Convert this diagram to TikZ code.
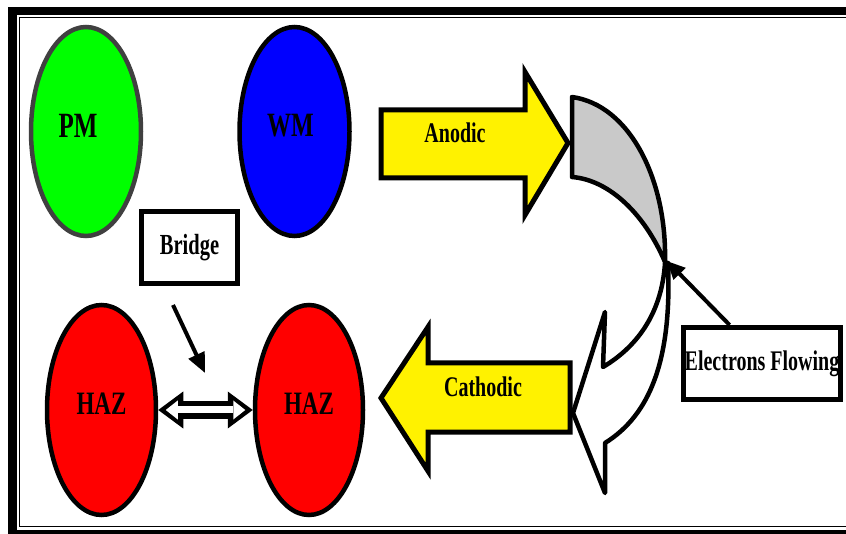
\documentclass[tikz,border=0pt]{standalone}
\usepackage{fontspec}
\setmainfont{Liberation Serif}
\usepackage{graphicx}
\usetikzlibrary{shapes.geometric,arrows.meta,calc}
\newcommand\tallbf[2]{\scalebox{1}[1.42]{\fontsize{#1}{#1}\selectfont\bfseries #2}}
\tikzset{
  blob/.style={ellipse, line width=4.5pt, draw=black, inner sep=0pt,
    minimum width=110pt, minimum height=209pt},
  inlbl/.style={inner sep=0pt, yshift=6pt},
  labelbox/.style={draw=black, line width=5pt, inner sep=0pt, fill=white},
  blockarrow/.style={fill=yellow, draw=black, line width=5pt, line join=miter},
  curvepart/.style={draw=black, line width=4.5pt, line join=round},
  ptr/.style={line width=4pt, -{Triangle[length=20pt,width=17pt]}},
  plain/.style={inner sep=0pt}
}
\begin{document}
\begin{tikzpicture}[x=1pt,y=-1pt]
\useasboundingbox (0,0) rectangle (846,534);
\clip (0,0) rectangle (846,534);
% frame
\fill[white] (0,0) rectangle (846,534);
\fill[black] (8,7) rectangle (870,560);
\fill[white] (17,15) rectangle (860,529.5);
\draw[line width=1.5pt] (19.5,17.5) rectangle (865,526.5);

% ellipses
\node[blob, fill=green, draw=black!75,
  label={[inlbl, xshift=-8pt]center:\tallbf{25}{PM}}] (pm) at (86,131.5) {};
\node[blob, fill=blue,
  label={[inlbl, xshift=-4pt]center:\tallbf{24}{WM}}] (wm) at (294.5,131.5) {};
\node[blob, fill=red, minimum width=109pt, minimum height=210pt,
  label={[inlbl]center:\tallbf{23}{HAZ}}] (hazl) at (101.5,410) {};
\node[blob, fill=red, minimum width=108pt, minimum height=210pt,
  label={[inlbl]center:\tallbf{23}{HAZ}}] (hazr) at (309,410) {};

% bridge
\node[labelbox, minimum width=96pt, minimum height=72pt] (bridge) at (189.5,247.5) {\tallbf{20.5}{Bridge}};
\coordinate (bstart) at (173,305);
\coordinate (bend) at (205,373);
\draw[ptr] (bstart) -- (bend);

% double arrow between HAZ
\draw[line width=17pt,
  {Triangle[length=25pt,width=37pt,line width=0pt]}-{Triangle[length=25pt,width=37pt,line width=0pt]}]
  (hazl.east) -- (hazr.west);
\draw[white, line width=7pt, shorten <=7.5pt, shorten >=7.5pt,
  {Triangle[length=12pt,width=19pt,line width=0pt]}-{Triangle[length=12pt,width=19pt,line width=0pt]}]
  (hazl.east) -- (hazr.west);

% white curved part
\draw[curvepart, fill=white] (665,263) .. controls (662,310) and (640,345) .. (603,367)
  -- (605,312) -- (573,413) -- (605,493) -- (605,443)
  .. controls (650,415) and (672,360) .. (668,263) -- cycle;
% gray curved part
\draw[curvepart, fill=black!21] (572,97) .. controls (630,105) and (667,180) .. (665,262)
  .. controls (645,215) and (610,180) .. (572,177) -- cycle;
\coordinate (twist) at (667,261);

% block arrows
\draw[blockarrow] (381,110) -- (525,110) -- (525,72) -- (568,143) -- (525,215)
  -- (525,178) -- (381,178) -- cycle;
\node[plain] (anodic) at (455,133) {\tallbf{20}{Anodic}};
\draw[blockarrow] (570,363) -- (428,363) -- (428,327) -- (381,398) -- (428,471)
  -- (428,432) -- (570,432) -- cycle;
\node[plain] (cathodic) at (483,387) {\tallbf{20}{Cathodic}};

% electrons box
\node[labelbox, minimum width=157pt, minimum height=72pt] (ef) at (762,363.5)
  {\tallbf{20}{Electrons Flowing}};
\draw[line width=4pt, -{Triangle[length=18pt,width=16pt]}]
  ($(ef.north west)!0.3!(ef.north east)$) -- (twist);
\end{tikzpicture}
\end{document}
